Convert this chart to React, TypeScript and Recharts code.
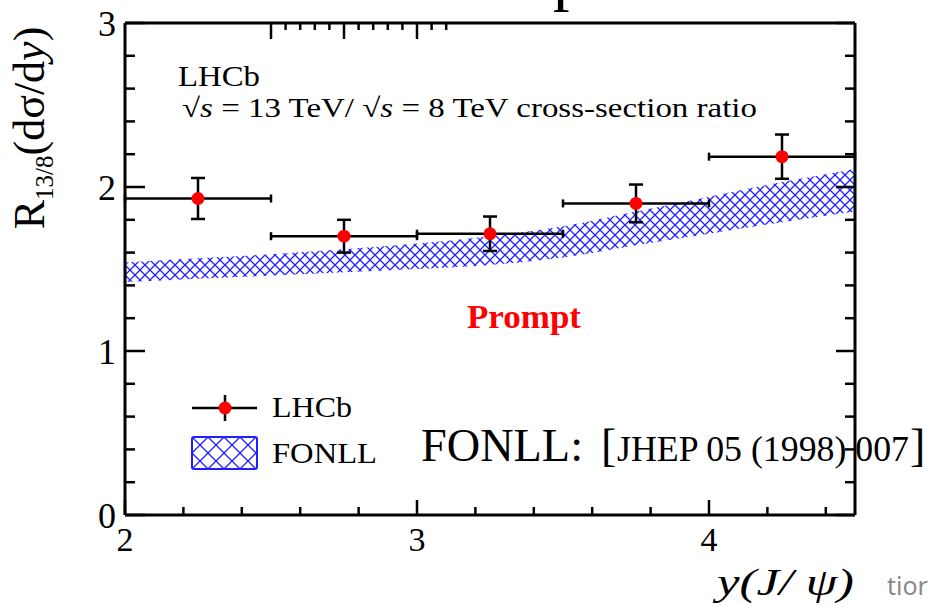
import React from 'react'
import { ComposedChart, Area, Scatter, ErrorBar, XAxis, YAxis } from 'recharts'

// LHCb prompt J/psi, 13 TeV / 8 TeV ratio per rapidity bin
const binCentres = [2.25, 2.75, 3.25, 3.75, 4.25]
const binHalfWidth = [0.25, 0.25, 0.25, 0.25, 0.25]
const ratio = [1.93, 1.70, 1.715, 1.90, 2.185]
const ratioErr = [0.125, 0.10, 0.105, 0.115, 0.135]

// FONLL prediction band
const fonllX = [2.0, 2.25, 2.5, 2.75, 3.0, 3.25, 3.5, 3.75, 4.0, 4.25, 4.5]
const fonllLow = [1.42, 1.44, 1.46, 1.48, 1.50, 1.525, 1.57, 1.645, 1.715, 1.785, 1.85]
const fonllHigh = [1.54, 1.565, 1.59, 1.62, 1.655, 1.70, 1.76, 1.85, 1.94, 2.03, 2.11]

const xTicks = [2, 2.2, 2.4, 2.6, 2.8, 3, 3.2, 3.4, 3.6, 3.8, 4, 4.2, 4.4]
const yTicks = [0, 0.2, 0.4, 0.6, 0.8, 1, 1.2, 1.4, 1.6, 1.8, 2, 2.2, 2.4, 2.6, 2.8, 3]

const serif = '"Liberation Serif", "Times New Roman", serif'
const isMajor = (v: number) => Math.abs(v - Math.round(v)) < 1e-6

function BottomTick({ x, y, payload }: any) {
  const major = isMajor(payload.value)
  return (
    <g>
      <line x1={x} x2={x} y1={y} y2={y - (major ? 15 : 8)} stroke="#000" strokeWidth={2.5} />
      {major && (
        <text x={x} y={y + 36} textAnchor="middle" fontFamily={serif} fontSize={34} fill="#000">
          {payload.value}
        </text>
      )}
    </g>
  )
}

function TopTick({ x, y, payload }: any) {
  const major = isMajor(payload.value)
  return <line x1={x} x2={x} y1={y} y2={y + (major ? 16 : 7)} stroke="#000" strokeWidth={2.5} />
}

function LeftTick({ x, y, payload }: any) {
  const major = isMajor(payload.value)
  return (
    <g>
      <line x1={x} x2={x + (major ? 20 : 10)} y1={y} y2={y} stroke="#000" strokeWidth={2.5} />
      {major && (
        <text x={x - 9} y={y} dy="0.35em" textAnchor="end" fontFamily={serif} fontSize={36} fill="#000">
          {payload.value}
        </text>
      )}
    </g>
  )
}

function RightTick({ x, y, payload }: any) {
  const major = isMajor(payload.value)
  return <line x1={x} x2={x - (major ? 19 : 10)} y1={y} y2={y} stroke="#000" strokeWidth={2.5} />
}

const dot = (p: any) => <circle cx={p.cx} cy={p.cy} r={6.5} fill="#ff0000" />

export default function App() {
  const band = fonllX.map((x, i) => ({ x, lo: fonllLow[i], hi: fonllHigh[i] }))
  const points = binCentres.map((x, i) => ({ x, y: ratio[i], ex: binHalfWidth[i], ey: ratioErr[i] }))
  const axisLine = { stroke: '#000', strokeWidth: 3 }

  return (
    <div style={{ position: 'absolute', left: 0, top: 0, width: 928, height: 606, background: '#fff' }}>
      <ComposedChart width={928} height={606} data={band} margin={{ top: 22, right: 72, bottom: 31, left: 25 }}>
        <defs>
          <pattern id="hatch" width={10} height={10} patternUnits="userSpaceOnUse">
            <path d="M0,0 L10,10 M10,0 L0,10" stroke="#1f1fff" strokeWidth={1.3} />
          </pattern>
        </defs>
        <XAxis dataKey="x" type="number" domain={[2, 4.5]} ticks={xTicks} interval={0} height={60}
          tickSize={0} tickMargin={0} tickLine={false} axisLine={axisLine} tick={<BottomTick />} allowDataOverflow />
        <XAxis xAxisId="top" orientation="top" type="number" domain={[2, 4.5]} ticks={xTicks} interval={0} height={1}
          tickSize={0} tickMargin={0} tickLine={false} axisLine={axisLine} tick={<TopTick />} allowDataOverflow />
        <YAxis type="number" domain={[0, 3]} ticks={yTicks} interval={0} width={100}
          tickSize={0} tickMargin={0} tickLine={false} axisLine={axisLine} tick={<LeftTick />} allowDataOverflow />
        <YAxis yAxisId="right" orientation="right" type="number" domain={[0, 3]} ticks={yTicks} interval={0} width={1}
          tickSize={0} tickMargin={0} tickLine={false} axisLine={axisLine} tick={<RightTick />} allowDataOverflow />
        <Area type="monotone" dataKey={(d: any) => [d.lo, d.hi]} stroke="none" fill="url(#hatch)" fillOpacity={1}
          isAnimationActive={false} />
        <Scatter data={points} dataKey="y" shape={dot} isAnimationActive={false}>
          <ErrorBar dataKey="ex" direction="x" width={4} stroke="#000" strokeWidth={2.5} isAnimationActive={false} />
          <ErrorBar dataKey="ey" direction="y" width={7} stroke="#000" strokeWidth={2.5} isAnimationActive={false} />
        </Scatter>
      </ComposedChart>

      <svg width={928} height={606} style={{ position: 'absolute', left: 0, top: 0, pointerEvents: 'none' }}>
        <defs>
          <pattern id="hatchLegend" width={16} height={16} patternUnits="userSpaceOnUse" x={192} y={437}>
            <path d="M0,0 L16,16 M16,0 L0,16" stroke="#1f1fff" strokeWidth={1.3} />
          </pattern>
        </defs>

        {/* descender of a title line cut off above the picture */}
        <text x={553} y={-2} fontFamily={serif} fontSize={66} fill="#000">p</text>

        <text transform="translate(44,128) rotate(-90)" textAnchor="middle" fontFamily={serif} fontSize={44} fill="#000">
          R<tspan fontSize={25} dy={9}>13/8</tspan><tspan dy={-9}>(dσ/d</tspan><tspan fontStyle="italic">y</tspan>)
        </text>

        <text x={178} y={86} fontFamily={serif} fontSize={29} textLength={82} lengthAdjust="spacingAndGlyphs" fill="#000">LHCb</text>
        <text x={182} y={117} fontFamily={serif} fontSize={27} textLength={575} lengthAdjust="spacingAndGlyphs" fill="#000">
          √<tspan fontStyle="italic">s</tspan> = 13 TeV/ √<tspan fontStyle="italic">s</tspan> = 8 TeV cross-section ratio
        </text>

        <text x={467} y={328} fontFamily={serif} fontSize={33} fontWeight="bold" fill="#ff0000"
          textLength={114} lengthAdjust="spacingAndGlyphs">Prompt</text>

        {/* legend */}
        <line x1={192} x2={257} y1={408} y2={408} stroke="#000" strokeWidth={2.5} />
        <line x1={225} x2={225} y1={395} y2={421} stroke="#000" strokeWidth={2.5} />
        <circle cx={225} cy={408} r={6.5} fill="#ff0000" />
        <text x={272} y={417} fontFamily={serif} fontSize={29} textLength={80} lengthAdjust="spacingAndGlyphs" fill="#000">LHCb</text>
        <rect x={192} y={437} width={65} height={32} rx={2} fill="url(#hatchLegend)" stroke="#1f1fff" strokeWidth={2} />
        <text x={272} y={463} fontFamily={serif} fontSize={29} textLength={105} lengthAdjust="spacingAndGlyphs" fill="#000">FONLL</text>

        {/* reference */}
        <text x={421} y={461} fontFamily={serif} fontSize={46} textLength={162} lengthAdjust="spacingAndGlyphs" fill="#000">FONLL:</text>
        <text x={601} y={461} fontFamily={serif} fontSize={46} fill="#000">[</text>
        <text x={617} y={461} fontFamily={serif} fontSize={35} textLength={292} lengthAdjust="spacingAndGlyphs" fill="#000">JHEP 05 (1998) 007</text>
        <text x={910} y={461} fontFamily={serif} fontSize={46} fill="#000">]</text>

        <text x={717} y={595} fontFamily={serif} fontSize={38} fontStyle="italic" textLength={137} lengthAdjust="spacingAndGlyphs" fill="#000">
          y(J/ ψ)
        </text>
        <text x={887} y={595} fontFamily='"Noto Sans", sans-serif' fontSize={25} fill="#8a8a8a">tior</text>
      </svg>
    </div>
  )
}
